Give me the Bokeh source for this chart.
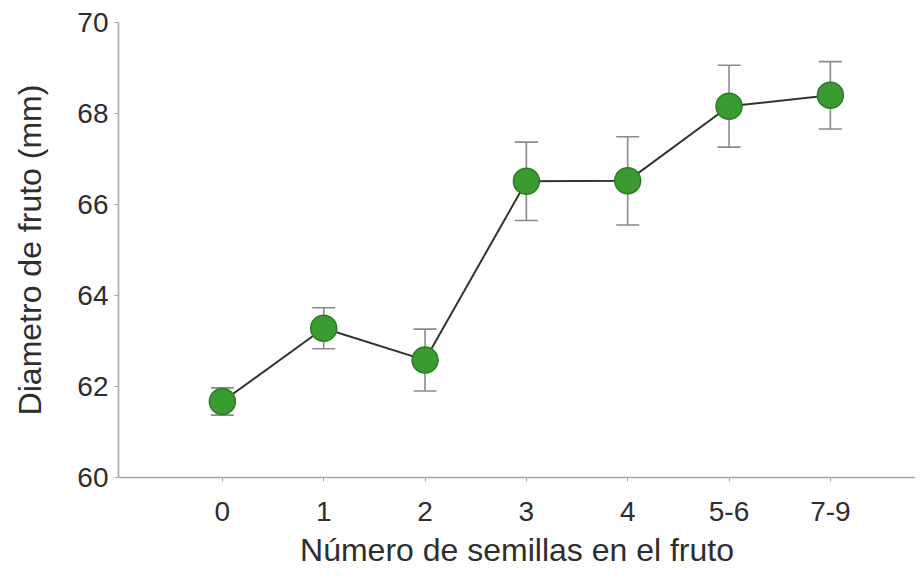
from bokeh.plotting import figure
from bokeh.models import ColumnDataSource, Range1d, FixedTicker, Whisker, TeeHead
from bokeh.embed import file_html
from bokeh.resources import INLINE

categories = ["0", "1", "2", "3", "4", "5-6", "7-9"]
diam_mean = [61.67, 63.28, 62.58, 66.51, 66.52, 68.16, 68.40]
diam_err = [0.30, 0.45, 0.68, 0.86, 0.97, 0.90, 0.74]

xs = list(range(len(categories)))
src = ColumnDataSource(dict(
    x=xs, y=diam_mean,
    lo=[m - e for m, e in zip(diam_mean, diam_err)],
    hi=[m + e for m, e in zip(diam_mean, diam_err)],
))

p = figure(width=915, height=573, output_backend="svg", toolbar_location=None,
           x_range=Range1d(-1.025, 6.84), y_range=Range1d(60, 70),
           min_border_left=118, min_border_right=0, min_border_top=22, min_border_bottom=96)
p.outline_line_color = None
p.grid.visible = False
p.background_fill_color = "white"

p.line("x", "y", source=src, line_color="#333333", line_width=2)
w = Whisker(source=src, base="x", lower="lo", upper="hi", dimension="height",
            line_color="#8a8a8a", line_width=1.6, level="underlay",
            upper_head=TeeHead(size=23, line_color="#8a8a8a", line_width=1.6),
            lower_head=TeeHead(size=23, line_color="#8a8a8a", line_width=1.6))
p.add_layout(w)
p.scatter("x", "y", source=src, size=26, fill_color="#3a9b30", line_color="#2b7d24", line_width=1.5)

font = "Liberation Sans"
p.xaxis.ticker = FixedTicker(ticks=xs)
p.xaxis.major_label_overrides = {i: c for i, c in enumerate(categories)}
p.yaxis.ticker = FixedTicker(ticks=[60, 62, 64, 66, 68, 70])
for ax in (p.xaxis, p.yaxis):
    ax.axis_line_color = "#a8a8a8"
    ax.axis_line_width = 1.6
    ax.major_tick_line_color = "#a8a8a8"
    ax.major_tick_in = 0
    ax.major_tick_out = 4
    ax.minor_tick_line_color = None
    ax.major_label_text_font = font
    ax.major_label_text_font_size = "28px"
    ax.major_label_text_color = "#2e2e2e"
    ax.axis_label_text_font = font
    ax.axis_label_text_font_size = "32px"
    ax.axis_label_text_font_style = "normal"
    ax.axis_label_text_color = "#2e2e2e"

p.xaxis.axis_label = "Número de semillas en el fruto"
p.yaxis.axis_label = "Diametro de fruto (mm)"
p.xaxis.major_label_standoff = 20
p.xaxis.axis_label_standoff = 8
p.yaxis.major_label_standoff = 6
p.yaxis.axis_label_standoff = 26

open("out.html", "w").write(file_html(p, INLINE))
